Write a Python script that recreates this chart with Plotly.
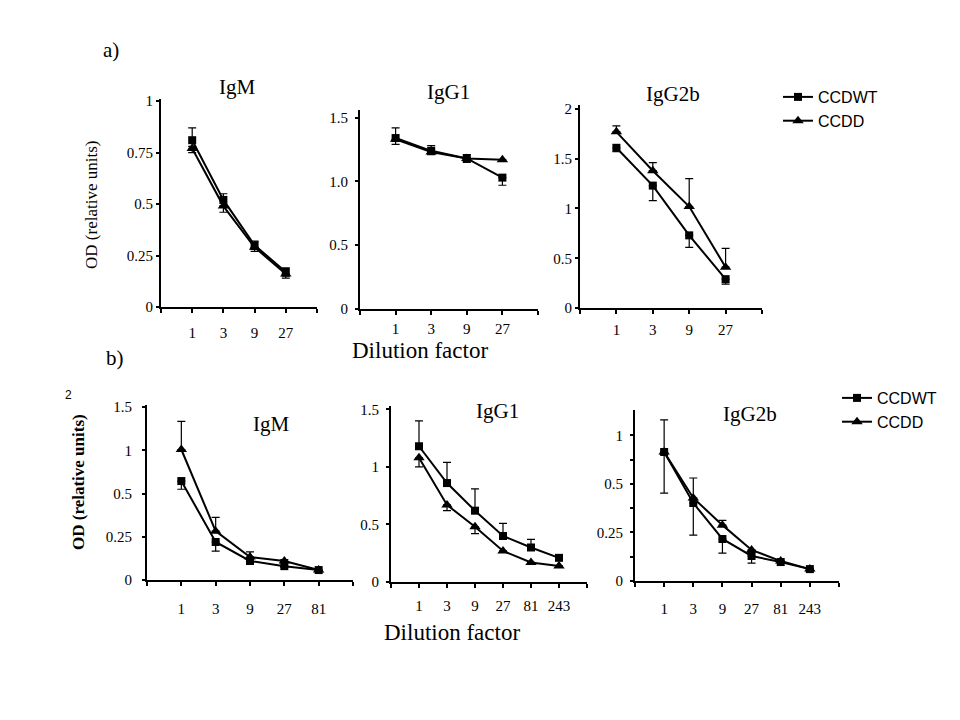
import math
import plotly.graph_objects as go

# ---------------- data ----------------
a_dil = [1, 3, 9, 27]
b_dil5 = [1, 3, 9, 27, 81]
b_dil6 = [1, 3, 9, 27, 81, 243]

# a) IgM
aIgM_wt = [0.81, 0.52, 0.30, 0.17]
aIgM_wt_up = [0.06, 0.03, 0.02, 0.02]
aIgM_wt_dn = [0.03, 0.03, 0.02, 0.02]
aIgM_dd = [0.77, 0.49, 0.29, 0.16]
aIgM_dd_up = [0, 0, 0, 0]
aIgM_dd_dn = [0.02, 0.03, 0.02, 0.02]

# a) IgG1
aIgG1_wt = [1.34, 1.24, 1.18, 1.03]
aIgG1_wt_up = [0.08, 0.04, 0.03, 0]
aIgG1_wt_dn = [0.05, 0.03, 0.03, 0.06]
aIgG1_dd = [1.33, 1.23, 1.18, 1.17]
aIgG1_dd_up = [0, 0, 0, 0]
aIgG1_dd_dn = [0, 0, 0, 0]

# a) IgG2b
aIgG2b_wt = [1.61, 1.23, 0.73, 0.29]
aIgG2b_wt_up = [0, 0, 0, 0]
aIgG2b_wt_dn = [0.04, 0.15, 0.12, 0.05]
aIgG2b_dd = [1.77, 1.38, 1.02, 0.41]
aIgG2b_dd_up = [0.06, 0.08, 0.28, 0.19]
aIgG2b_dd_dn = [0, 0, 0, 0]

# b) IgM  (positions on the evenly spaced tick scale 0, 0.25, 0.5, 1, 1.5)
bIgM_wt = [2.29, 0.88, 0.44, 0.32, 0.23]
bIgM_wt_up = [0, 0, 0, 0, 0]
bIgM_wt_dn = [0.19, 0.21, 0.05, 0.03, 0.02]
bIgM_dd = [3.02, 1.13, 0.53, 0.44, 0.23]
bIgM_dd_up = [0.65, 0.32, 0.12, 0.03, 0]
bIgM_dd_dn = [0, 0, 0, 0, 0]
bIgM_ticktext = ["0", "0.25", "0.5", "1", "1.5"]

# b) IgG1
bIgG1_wt = [1.18, 0.86, 0.62, 0.40, 0.30, 0.21]
bIgG1_wt_up = [0.22, 0.18, 0.19, 0.11, 0.07, 0]
bIgG1_wt_dn = [0, 0, 0, 0, 0, 0]
bIgG1_dd = [1.08, 0.67, 0.48, 0.27, 0.17, 0.14]
bIgG1_dd_up = [0, 0, 0, 0, 0, 0]
bIgG1_dd_dn = [0.08, 0.05, 0.06, 0, 0, 0]

# b) IgG2b  (positions on the evenly spaced tick scale 0, -, 0.25, -, 0.5, -, 1)
bIgG2b_wt = [5.31, 3.21, 1.73, 1.03, 0.78, 0.49]
bIgG2b_wt_up = [1.32, 0, 0, 0, 0, 0]
bIgG2b_wt_dn = [1.69, 1.32, 0.58, 0.29, 0, 0]
bIgG2b_dd = [5.31, 3.42, 2.30, 1.28, 0.82, 0.49]
bIgG2b_dd_up = [0, 0.82, 0.2, 0, 0, 0]
bIgG2b_dd_dn = [0, 0, 0, 0, 0, 0]
bIgG2b_ticktext = ["0", "", "0.25", "", "0.5", "", "1"]

series_names = ["CCDWT", "CCDD"]

# ---------------- layout helpers ----------------
W, H = 960, 720
SERIF = "Liberation Serif, Times New Roman, serif"
SANS = "Liberation Sans, Arial, sans-serif"
L3 = math.log10(3)

def px(x):
    return x / W

def py(y):
    return 1 - y / H

panels = [
    dict(x0=161, x1=317, yb=307, yt=99, yr=[0, 1.01], tv=[0, 0.25, 0.5, 0.75, 1],
         tt=["0", "0.25", "0.5", "0.75", "1"], dil=a_dil,
         wt=(aIgM_wt, aIgM_wt_up, aIgM_wt_dn), dd=(aIgM_dd, aIgM_dd_up, aIgM_dd_dn),
         xs=7, ys=0, leg="legend"),
    dict(x0=360, x1=538, yb=309, yt=110, yr=[0, 1.56], tv=[0, 0.5, 1.0, 1.5],
         tt=["0", "0.5", "1.0", "1.5"], dil=a_dil,
         wt=(aIgG1_wt, aIgG1_wt_up, aIgG1_wt_dn), dd=(aIgG1_dd, aIgG1_dd_up, aIgG1_dd_dn),
         xs=1, ys=4, leg=None),
    dict(x0=580, x1=762, yb=308, yt=105, yr=[0, 2.04], tv=[0, 0.5, 1, 1.5, 2],
         tt=["0", "0.5", "1", "1.5", "2"], dil=a_dil,
         wt=(aIgG2b_wt, aIgG2b_wt_up, aIgG2b_wt_dn), dd=(aIgG2b_dd, aIgG2b_dd_up, aIgG2b_dd_dn),
         xs=3, ys=0, leg=None),
    dict(x0=147, x1=353, yb=580, yt=405, yr=[0, 4.05], tv=[0, 1, 2, 3, 4],
         tt=bIgM_ticktext, dil=b_dil5,
         wt=(bIgM_wt, bIgM_wt_up, bIgM_wt_dn), dd=(bIgM_dd, bIgM_dd_up, bIgM_dd_dn),
         xs=10, ys=7, leg="legend2"),
    dict(x0=391, x1=587, yb=582, yt=406, yr=[0, 1.53], tv=[0, 0.5, 1, 1.5],
         tt=["0", "0.5", "1", "1.5"], dil=b_dil6,
         wt=(bIgG1_wt, bIgG1_wt_up, bIgG1_wt_dn), dd=(bIgG1_dd, bIgG1_dd_up, bIgG1_dd_dn),
         xs=5, ys=4, leg=None),
    dict(x0=635, x1=839, yb=581, yt=410, yr=[0, 7.04], tv=[0, 1, 2, 3, 4, 5, 6],
         tt=bIgG2b_ticktext, dil=b_dil6,
         wt=(bIgG2b_wt, bIgG2b_wt_up, bIgG2b_wt_dn), dd=(bIgG2b_dd, bIgG2b_dd_up, bIgG2b_dd_dn),
         xs=9, ys=4, leg=None),
]

fig = go.Figure()
layout = {}

for i, p in enumerate(panels):
    k = "" if i == 0 else str(i + 1)
    n = len(p["dil"])
    xtv = [3 ** -1] + p["dil"] + [3 ** n]
    xtt = [""] + [str(d) for d in p["dil"]] + [""]
    layout["xaxis" + k] = dict(
        type="log", domain=[px(p["x0"]), px(p["x1"])],
        range=[-L3 - 1e-6, n * L3 + 1e-6], anchor="y" + k,
        tickmode="array", tickvals=xtv, ticktext=xtt, automargin=False,
        showline=True, linecolor="black", linewidth=2,
        ticks="outside", ticklen=4, tickwidth=1.5, tickcolor="black",
        showgrid=False, zeroline=False, ticklabelstandoff=p["xs"],
        tickfont=dict(family=SERIF, size=15, color="black"),
    )
    layout["yaxis" + k] = dict(
        domain=[py(p["yb"]), py(p["yt"])], range=p["yr"], anchor="x" + k,
        tickmode="array", tickvals=p["tv"], ticktext=p["tt"], automargin=False,
        showline=True, linecolor="black", linewidth=2,
        ticks="outside", ticklen=3, tickwidth=1.5, tickcolor="black",
        showgrid=False, zeroline=False, ticklabelstandoff=p["ys"],
        tickfont=dict(family=SERIF, size=15, color="black"),
    )
    for name, (vals, up, dn), sym, size in (
        (series_names[0], p["wt"], "square", 8),
        (series_names[1], p["dd"], "triangle-up", 10),
    ):
        tr = dict(
            x=p["dil"], y=vals, mode="lines+markers", name=name,
            xaxis="x" + k, yaxis="y" + k,
            line=dict(color="black", width=2),
            marker=dict(symbol=sym, size=size, color="black"),
            error_y=dict(type="data", symmetric=False, array=up, arrayminus=dn,
                         color="black", thickness=1.2, width=4),
            showlegend=p["leg"] is not None,
        )
        if p["leg"] is not None:
            tr["legend"] = p["leg"]
        fig.add_trace(go.Scatter(**tr))

annotations = []

def txt(x, y, s, size, family=SERIF, angle=0, xanchor="center"):
    annotations.append(dict(
        x=px(x), y=py(y), xref="paper", yref="paper", text=s, showarrow=False,
        xanchor=xanchor, yanchor="middle", textangle=angle,
        font=dict(family=family, size=size, color="black"),
    ))

txt(111, 50, "a)", 21)
txt(115, 358, "b)", 21)
txt(237, 87, "IgM", 21)
txt(448, 92, "IgG1", 21)
txt(673, 94, "IgG2b", 21)
txt(271, 424, "IgM", 21)
txt(497, 411, "IgG1", 21)
txt(750, 414, "IgG2b", 21)
txt(420, 350, "Dilution factor", 23)
txt(452, 632, "Dilution factor", 23)
txt(91, 205, "OD (relative units)", 17, angle=-90)
txt(79, 482, "<b>OD (relative units)</b>", 17, angle=-90)
txt(68, 395, "2", 12, family=SANS)

leg_common = dict(
    font=dict(family=SANS, size=16, color="black"), bgcolor="rgba(0,0,0,0)",
    borderwidth=0, itemwidth=30, xanchor="left", yanchor="top",
    tracegroupgap=0, itemclick=False,
)
layout["legend"] = dict(x=px(778), y=py(80), **leg_common)
layout["legend2"] = dict(x=px(837), y=py(381), **leg_common)

fig.update_layout(
    template="none",
    width=W, height=H, margin=dict(l=0, r=0, t=0, b=0, pad=0), autosize=False,
    paper_bgcolor="white", plot_bgcolor="white",
    annotations=annotations, **layout,
)

fig.write_html("out.html", config={"displayModeBar": False},
               post_script="document.body.style.margin='0px';")
